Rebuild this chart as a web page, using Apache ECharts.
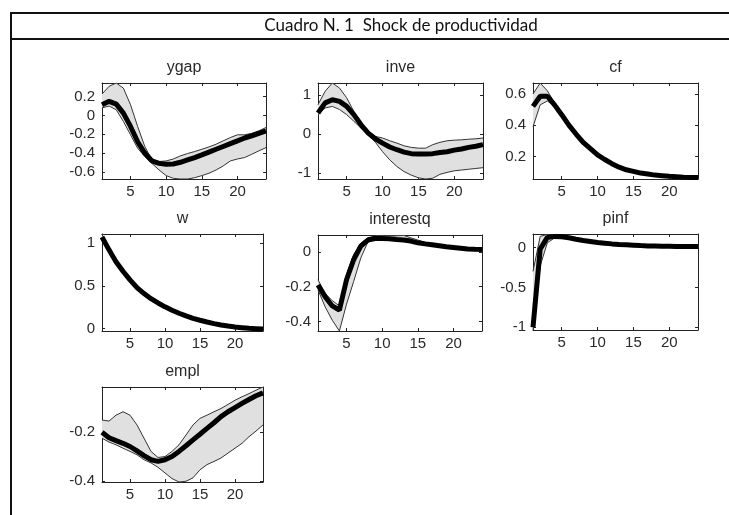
<!DOCTYPE html>
<html><head><meta charset="utf-8">
<script src="https://cdn.jsdelivr.net/npm/echarts@6/dist/echarts.min.js"></script>
<style>html,body{margin:0;padding:0;background:#fff}#c{width:729px;height:515px}</style>
</head><body><div id="c"></div>
<script>
// ---------- data ----------
const steps = [1,2,3,4,5,6,7,8,9,10,11,12,13,14,15,16,17,18,19,20,21,22,23,24];
const xTicks = [5,10,15,20];
const figureTitle = 'Cuadro N. 1  Shock de productividad';
const panelNames = ['ygap','inve','cf','w','interestq','pinf','empl'];

const ygapMean  = [0.114,0.15,0.12,0.025,-0.117,-0.28,-0.40,-0.484,-0.51,-0.52,-0.516,-0.498,-0.473,-0.448,-0.42,-0.39,-0.36,-0.33,-0.30,-0.27,-0.24,-0.217,-0.19,-0.164];
const ygapUpper = [0.228,0.31,0.345,0.29,0.114,-0.117,-0.33,-0.473,-0.49,-0.484,-0.463,-0.43,-0.405,-0.384,-0.36,-0.335,-0.306,-0.27,-0.235,-0.206,-0.206,-0.19,-0.164,-0.128];
const ygapLower = [0.08,0.1,0.06,-0.064,-0.206,-0.349,-0.438,-0.51,-0.58,-0.64,-0.669,-0.676,-0.676,-0.662,-0.64,-0.615,-0.58,-0.537,-0.484,-0.463,-0.448,-0.413,-0.377,-0.342];
const ygapTicks = [-0.6,-0.4,-0.2,0,0.2];

const inveMean  = [0.54,0.80,0.88,0.84,0.71,0.50,0.24,0.026,-0.12,-0.23,-0.33,-0.40,-0.46,-0.50,-0.51,-0.51,-0.50,-0.47,-0.45,-0.41,-0.38,-0.34,-0.31,-0.27];
const inveUpper = [0.755,1.10,1.31,1.18,0.93,0.58,0.28,0.05,-0.06,-0.10,-0.17,-0.23,-0.30,-0.34,-0.36,-0.36,-0.27,-0.21,-0.17,-0.155,-0.146,-0.13,-0.12,-0.10];
const inveLower = [0.50,0.67,0.71,0.63,0.50,0.33,0.15,-0.02,-0.21,-0.45,-0.66,-0.83,-0.96,-1.05,-1.12,-1.15,-1.13,-1.03,-0.98,-0.94,-0.92,-0.90,-0.88,-0.86];
const inveTicks = [-1,0,1];

const cfMean  = [0.52,0.585,0.585,0.53,0.467,0.40,0.343,0.29,0.25,0.21,0.18,0.153,0.131,0.114,0.104,0.093,0.087,0.080,0.076,0.072,0.070,0.067,0.065,0.064];
const cfUpper = [0.60,0.67,0.62,0.545,0.477,0.41,0.352,0.298,0.257,0.217,0.186,0.159,0.136,0.119,0.108,0.097,0.091,0.084,0.080,0.076,0.074,0.071,0.069,0.068];
const cfLower = [0.39,0.53,0.555,0.52,0.457,0.39,0.334,0.282,0.243,0.203,0.174,0.147,0.126,0.109,0.100,0.089,0.083,0.076,0.072,0.068,0.066,0.063,0.061,0.058];
const cfTicks = [0.2,0.4,0.6];

const wMean  = [1.07,0.92,0.78,0.67,0.57,0.48,0.41,0.35,0.30,0.255,0.216,0.18,0.149,0.12,0.098,0.078,0.059,0.043,0.031,0.02,0.012,0.004,0.0,-0.004];
const wUpper = [1.10,0.94,0.80,0.685,0.585,0.495,0.422,0.362,0.31,0.264,0.224,0.187,0.155,0.126,0.103,0.083,0.064,0.048,0.036,0.025,0.017,0.01,0.006,0.003];
const wLower = [1.04,0.90,0.76,0.655,0.555,0.465,0.398,0.338,0.29,0.246,0.208,0.173,0.143,0.114,0.093,0.073,0.054,0.038,0.026,0.015,0.007,-0.002,-0.006,-0.01];
const wTicks = [0,0.5,1];

const interestqMean  = [-0.19,-0.257,-0.31,-0.334,-0.16,-0.045,0.033,0.068,0.077,0.077,0.075,0.071,0.068,0.062,0.052,0.046,0.041,0.035,0.029,0.025,0.021,0.017,0.015,0.014];
const interestqUpper = [-0.16,-0.238,-0.28,-0.31,-0.13,-0.015,0.05,0.081,0.091,0.095,0.093,0.092,0.095,0.081,0.068,0.056,0.046,0.040,0.034,0.029,0.025,0.021,0.019,0.018];
const interestqLower = [-0.218,-0.315,-0.392,-0.454,-0.30,-0.17,-0.035,0.058,0.07,0.07,0.068,0.064,0.061,0.056,0.047,0.041,0.036,0.030,0.024,0.020,0.016,0.012,0.010,0.009];
const interestqTicks = [-0.4,-0.2,0];

const pinfMean  = [-1.0,-0.02,0.127,0.14,0.135,0.122,0.105,0.089,0.076,0.063,0.055,0.046,0.038,0.034,0.030,0.025,0.021,0.019,0.017,0.015,0.013,0.013,0.012,0.012];
const pinfUpper = [-0.3,0.14,0.165,0.155,0.145,0.13,0.112,0.096,0.082,0.069,0.06,0.051,0.043,0.038,0.034,0.029,0.025,0.023,0.021,0.019,0.017,0.017,0.016,0.016];
const pinfLower = [-1.03,-0.23,0.06,0.12,0.125,0.114,0.098,0.082,0.07,0.057,0.05,0.041,0.033,0.03,0.026,0.021,0.017,0.015,0.013,0.011,0.009,0.009,0.008,0.008];
const pinfTicks = [-1,-0.5,0];

const emplMean  = [-0.20,-0.222,-0.234,-0.245,-0.258,-0.276,-0.295,-0.312,-0.319,-0.312,-0.299,-0.278,-0.255,-0.231,-0.208,-0.184,-0.161,-0.136,-0.116,-0.099,-0.082,-0.066,-0.051,-0.039];
const emplUpper = [-0.15,-0.154,-0.13,-0.116,-0.13,-0.17,-0.224,-0.278,-0.303,-0.299,-0.278,-0.251,-0.211,-0.17,-0.143,-0.13,-0.116,-0.103,-0.086,-0.069,-0.055,-0.042,-0.028,-0.015];
const emplLower = [-0.224,-0.24,-0.251,-0.265,-0.278,-0.292,-0.312,-0.325,-0.343,-0.366,-0.389,-0.403,-0.40,-0.386,-0.353,-0.332,-0.319,-0.305,-0.285,-0.265,-0.245,-0.218,-0.195,-0.17];
const emplTicks = [-0.4,-0.2];

const yLimits = [[-0.676,0.345],[-1.15,1.31],[0.055,0.67],[-0.027,1.105],[-0.454,0.097],[-1.034,0.17],[-0.403,-0.015]];

// ---------- layout ----------
const panels = [
  {mean: ygapMean, upper: ygapUpper, lower: ygapLower, ticks: ygapTicks},
  {mean: inveMean, upper: inveUpper, lower: inveLower, ticks: inveTicks},
  {mean: cfMean, upper: cfUpper, lower: cfLower, ticks: cfTicks},
  {mean: wMean, upper: wUpper, lower: wLower, ticks: wTicks},
  {mean: interestqMean, upper: interestqUpper, lower: interestqLower, ticks: interestqTicks},
  {mean: pinfMean, upper: pinfUpper, lower: pinfLower, ticks: pinfTicks},
  {mean: emplMean, upper: emplUpper, lower: emplLower, ticks: emplTicks}
];
const boxes = [
  {left:102, top:83, width:164, height:96},
  {left:318, top:83, width:165, height:96},
  {left:533, top:83, width:165, height:96},
  {left:102, top:234, width:161, height:97},
  {left:318, top:235, width:164, height:96},
  {left:533, top:234, width:165, height:96},
  {left:102, top:387, width:161, height:95}
];

const FONT = 'Liberation Sans, Arial, sans-serif';
const TXT = '#2a2a2a';
const grids = [], xAxes = [], yAxes = [], series = [], graphics = [];

panels.forEach((p, k) => {
  const b = boxes[k];
  grids.push({left: b.left, top: b.top, width: b.width, height: b.height, containLabel: false});
  const [ymin, ymax] = yLimits[k];
  const axLine = {show: true, onZero: false, lineStyle: {color: '#222', width: 1}};
  const tick = {show: true, inside: true, length: 3, lineStyle: {color: '#222', width: 1}};
  xAxes.push({type: 'value', gridIndex: k, min: 1, max: 24, position: 'bottom',
    axisLine: axLine, splitLine: {show: false},
    axisTick: Object.assign({customValues: xTicks}, tick),
    axisLabel: {customValues: xTicks, color: TXT, fontFamily: FONT, fontSize: 15, margin: 5}});
  xAxes.push({type: 'value', gridIndex: k, min: 1, max: 24, position: 'top',
    axisLine: axLine, splitLine: {show: false},
    axisTick: Object.assign({customValues: xTicks}, tick),
    axisLabel: {show: false}});
  yAxes.push({type: 'value', gridIndex: k, min: ymin, max: ymax, position: 'left',
    axisLine: axLine, splitLine: {show: false},
    axisTick: Object.assign({customValues: p.ticks}, tick),
    axisLabel: {customValues: p.ticks, color: TXT, fontFamily: FONT, fontSize: 15, margin: 7}});
  yAxes.push({type: 'value', gridIndex: k, min: ymin, max: ymax, position: 'right',
    axisLine: axLine, splitLine: {show: false},
    axisTick: Object.assign({customValues: p.ticks}, tick),
    axisLabel: {show: false}});

  const xi = k * 2, yi = k * 2;
  const bandData = steps.map((s, i) => [s, p.lower[i], p.upper[i]]);
  series.push({
    type: 'custom', xAxisIndex: xi, yAxisIndex: yi, silent: true, z: 1,
    data: bandData,
    renderItem: (params, api) => {
      if (params.dataIndex !== 0) return;
      const lo = [], up = [];
      bandData.forEach(d => { lo.push(api.coord([d[0], d[1]])); up.push(api.coord([d[0], d[2]])); });
      return {type: 'polygon', shape: {points: lo.concat(up.slice().reverse())},
        style: {fill: '#e0e0e0', stroke: null}};
    },
    encode: {x: 0, y: [1, 2]}
  });
  series.push({type: 'line', xAxisIndex: xi, yAxisIndex: yi, data: steps.map((s, i) => [s, p.upper[i]]),
    showSymbol: false, silent: true, z: 2, lineStyle: {color: '#333', width: 1}});
  series.push({type: 'line', xAxisIndex: xi, yAxisIndex: yi, data: steps.map((s, i) => [s, p.lower[i]]),
    showSymbol: false, silent: true, z: 2, lineStyle: {color: '#333', width: 1}});
  series.push({type: 'line', xAxisIndex: xi, yAxisIndex: yi, data: steps.map((s, i) => [s, p.mean[i]]),
    showSymbol: false, silent: true, z: 3, lineStyle: {color: '#000', width: 5}});

  graphics.push({type: 'text', x: b.left + b.width / 2, y: b.top - 15,
    style: {text: panelNames[k], font: '16px ' + FONT, fill: TXT, textAlign: 'center', textVerticalAlign: 'middle'}});
});

// figure frame and heading
graphics.push({type: 'line', shape: {x1: 11, y1: 13, x2: 729, y2: 13}, style: {stroke: '#111', lineWidth: 2}});
graphics.push({type: 'line', shape: {x1: 11, y1: 39, x2: 729, y2: 39}, style: {stroke: '#111', lineWidth: 2}});
graphics.push({type: 'line', shape: {x1: 11, y1: 12, x2: 11, y2: 515}, style: {stroke: '#111', lineWidth: 2}});
graphics.push({type: 'text', x: 401, y: 26,
  style: {text: figureTitle, font: '17px Lato, "Open Sans", sans-serif', fill: '#111', textAlign: 'center', textVerticalAlign: 'middle'}});

const chart = echarts.init(document.getElementById('c'), null, {renderer: 'canvas'});
chart.setOption({animation: false, grid: grids, xAxis: xAxes, yAxis: yAxes, series: series, graphic: graphics});
</script></body></html>
